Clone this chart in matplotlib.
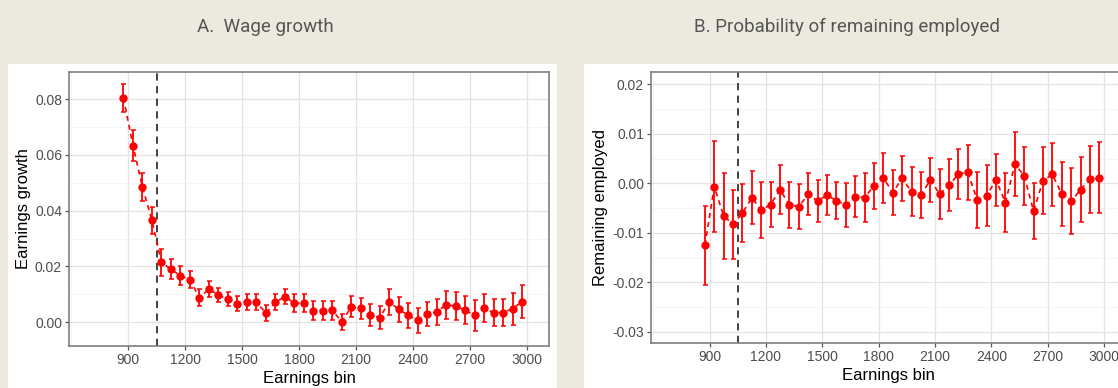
import matplotlib
matplotlib.use("Agg")
import matplotlib.pyplot as plt
import matplotlib.patches as mp
from matplotlib.ticker import MultipleLocator, FormatStrFormatter

plt.rcParams['font.family'] = ['Liberation Sans', 'DejaVu Sans']
plt.rcParams['axes.unicode_minus'] = False

# earnings bins (bin centres)
bins = [875 + 50 * i for i in range(43)]

# panel A: wage growth
growth = [0.0805, 0.0634, 0.0485, 0.0365, 0.0214, 0.0190, 0.0166, 0.0152, 0.0087, 0.0119,
          0.0096, 0.0084, 0.0065, 0.0072, 0.0072, 0.0032, 0.0071, 0.0091, 0.0068, 0.0068,
          0.0041, 0.0041, 0.0043, 0.0000, 0.0055, 0.0049, 0.0025, 0.0016, 0.0072, 0.0046,
          0.0024, 0.0006, 0.0028, 0.0036, 0.0062, 0.0057, 0.0042, 0.0024, 0.0049, 0.0034,
          0.0034, 0.0048, 0.0073]
growth_se = [0.0049, 0.0057, 0.0050, 0.0048, 0.0048, 0.0036, 0.0034, 0.0031, 0.0030, 0.0028,
             0.0025, 0.0025, 0.0027, 0.0027, 0.0028, 0.0030, 0.0029, 0.0028, 0.0032, 0.0032,
             0.0033, 0.0034, 0.0034, 0.0030, 0.0037, 0.0038, 0.0040, 0.0040, 0.0047, 0.0045,
             0.0044, 0.0045, 0.0044, 0.0045, 0.0051, 0.0051, 0.0050, 0.0055, 0.0050, 0.0050,
             0.0048, 0.0057, 0.0059]

# panel B: probability of remaining employed
employed = [-0.0125, -0.0007, -0.0066, -0.0083, -0.0060, -0.0029, -0.0054, -0.0043, -0.0013, -0.0044,
            -0.0047, -0.0022, -0.0036, -0.0024, -0.0035, -0.0044, -0.0027, -0.0029, -0.0005, 0.0011,
            -0.0019, 0.0010, -0.0017, -0.0024, 0.0007, -0.0022, -0.0004, 0.0019, 0.0022, -0.0034,
            -0.0025, 0.0007, -0.0039, 0.0039, 0.0015, -0.0056, 0.0005, 0.0018, -0.0022, -0.0036,
            -0.0013, 0.0008, 0.0011]
employed_se = [0.0080, 0.0092, 0.0087, 0.0070, 0.0058, 0.0053, 0.0057, 0.0045, 0.0049, 0.0046,
               0.0045, 0.0043, 0.0043, 0.0040, 0.0038, 0.0045, 0.0042, 0.0050, 0.0046, 0.0050,
               0.0045, 0.0045, 0.0050, 0.0046, 0.0045, 0.0050, 0.0053, 0.0051, 0.0056, 0.0057,
               0.0062, 0.0053, 0.0060, 0.0064, 0.0059, 0.0056, 0.0068, 0.0063, 0.0065, 0.0067,
               0.0066, 0.0068, 0.0072]

threshold = 1050
xticks = [900, 1200, 1500, 1800, 2100, 2400, 2700, 3000]

W, H = 1118, 388
fig = plt.figure(figsize=(W / 100, H / 100), dpi=100)
fig.patch.set_facecolor("#ECEADF")

# white panel backgrounds (behind the axes)
fig.patches.append(mp.Rectangle((8 / W, 0), 549 / W, 324 / H, transform=fig.transFigure,
                                facecolor="white", edgecolor="none", zorder=-5))
fig.patches.append(mp.Rectangle((584 / W, 0), 600 / W, 324 / H, transform=fig.transFigure,
                                facecolor="white", edgecolor="none", zorder=-5))

fig.text(265 / W, 1 - 27 / H, "A.  Wage growth", ha="center", va="center",
         fontsize=13.5, color="#555555", family=["Roboto", "DejaVu Sans"])
fig.text(847 / W, 1 - 27 / H, "B. Probability of remaining employed", ha="center", va="center",
         fontsize=13.5, color="#555555", family=["Roboto", "DejaVu Sans"])

axA = fig.add_axes([69 / W, 1 - 345.7 / H, 480 / W, 273.4 / H])
axB = fig.add_axes([651 / W, 1 - 343.3 / H, 475 / W, 271 / H])


def style(ax, ylim, ymajor, ylabel):
    ax.set_facecolor("white")
    ax.set_xlim(588, 3117)
    ax.set_ylim(*ylim)
    ax.set_xticks(xticks)
    ax.set_xticks([600 + 300 * i for i in range(9)], minor=True)
    ax.yaxis.set_major_locator(MultipleLocator(ymajor))
    ax.yaxis.set_minor_locator(MultipleLocator(ymajor / 2))
    ax.yaxis.set_major_formatter(FormatStrFormatter("%.2f"))
    ax.grid(True, which="major", color="#E3E3E3", lw=0.9, zorder=0)
    ax.grid(True, which="minor", color="#F2F2F2", lw=0.6, zorder=0)
    ax.set_axisbelow(True)
    for s in ax.spines.values():
        s.set_color("#7F7F7F")
        s.set_linewidth(1.2)
    ax.tick_params(which="major", length=3, width=0.9, color="#555555",
                   labelsize=10, labelcolor="#4D4D4D", pad=2)
    ax.tick_params(which="minor", length=0)
    ax.set_xlabel("Earnings bin", fontsize=12, labelpad=3)
    ax.set_ylabel(ylabel, fontsize=12, labelpad=3)
    ax.axvline(threshold, color="#333333", lw=1.3, ls=(0, (4, 3)), zorder=2)


def draw(ax, y, se):
    ax.plot(bins, y, color="red", lw=1.2, ls=(0, (3, 2.5)), zorder=3)
    ax.errorbar(bins, y, yerr=se, fmt="o", color="red", ms=5, elinewidth=1.3,
                capsize=1.8, capthick=1.1, zorder=4)


style(axA, (-0.0085, 0.0897), 0.02, "Earnings growth")
draw(axA, growth, growth_se)

style(axB, (-0.03234, 0.02243), 0.01, "Remaining employed")
draw(axB, employed, employed_se)

fig.savefig("out.png", dpi=100, facecolor=fig.get_facecolor())
